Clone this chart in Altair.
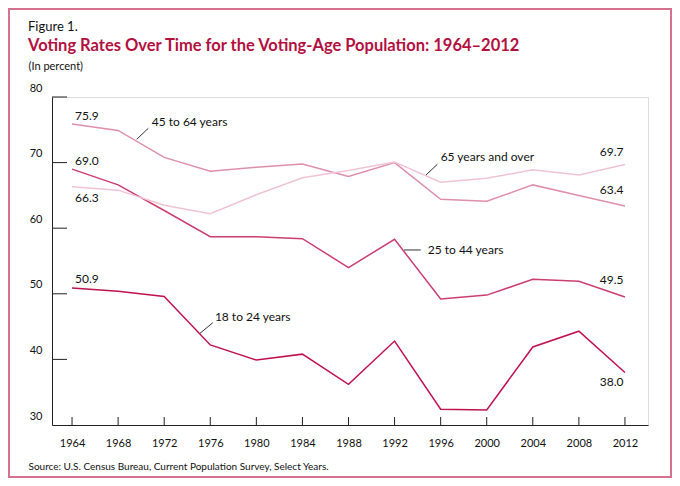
import altair as alt
import pandas as pd

years = [1964, 1968, 1972, 1976, 1980, 1984, 1988, 1992, 1996, 2000, 2004, 2008, 2012]
age_18_24 = [50.9, 50.4, 49.6, 42.2, 39.9, 40.8, 36.2, 42.8, 32.4, 32.3, 41.9, 44.3, 38.0]
age_25_44 = [69.0, 66.6, 62.7, 58.7, 58.7, 58.4, 54.0, 58.3, 49.2, 49.8, 52.2, 51.9, 49.5]
age_45_64 = [75.9, 74.9, 70.8, 68.7, 69.3, 69.8, 67.9, 70.0, 64.4, 64.1, 66.6, 65.0, 63.4]
age_65_up = [66.3, 65.8, 63.5, 62.2, 65.1, 67.7, 68.8, 70.1, 67.0, 67.6, 68.9, 68.1, 69.7]

series_names = ["18 to 24 years", "25 to 44 years", "45 to 64 years", "65 years and over"]
series_values = [age_18_24, age_25_44, age_45_64, age_65_up]
series_colors = ["#c0134b", "#cc3f6c", "#df8fa9", "#f1c4d2"]
y_ticks = [40, 50, 60, 70, 80]

rows = []
for name, vals in zip(series_names, series_values):
    for yr, v in zip(years, vals):
        rows.append({"year": yr, "value": v, "series": name})
df = pd.DataFrame(rows)

W, H = 596, 328
font = "Lato"

xscale = alt.Scale(domain=[1962.26, 2014], nice=False, zero=False)
yscale = alt.Scale(domain=[30, 80], nice=False, zero=False)

xenc = alt.X("year:Q", scale=xscale,
             axis=alt.Axis(values=years, format="d", ticks=False, grid=False,
                           domainColor="#222", domainWidth=1, labelFontSize=11,
                           labelColor="#111", labelPadding=12, labelFont=font,
                           title="Source: U.S. Census Bureau, Current Population Survey, Select Years.",
                           titleFontSize=10, titleFontWeight="normal", titleColor="#111",
                           titleAlign="left", titleBaseline="middle",
                           titleX=-24, titleY=41, titleFont=font))
yenc = alt.Y("value:Q", scale=yscale,
             axis=alt.Axis(values=[30, 40, 50, 60, 70, 80], ticks=False, grid=False,
                           domainColor="#222", domainWidth=1, labelFontSize=11,
                           labelColor="#111", labelPadding=10, labelBaseline="middle",
                           labelOffset=-9, labelFont=font,
                           title="(In percent)", titleAngle=0, titleFontSize=11,
                           titleFontWeight="normal", titleColor="#111",
                           titleAlign="left", titleBaseline="middle",
                           titleX=-24, titleY=-31, titleFont=font))

lines = alt.Chart(df).mark_line(strokeWidth=1.5).encode(
    x=xenc, y=yenc,
    color=alt.Color("series:N", scale=alt.Scale(domain=series_names, range=series_colors), legend=None),
    detail="series:N",
)

ytick_df = pd.DataFrame({"value": y_ticks})
yticks = alt.Chart(ytick_df).mark_rule(color="#222", strokeWidth=1).encode(
    y=alt.Y("value:Q", scale=yscale), x=alt.value(0), x2=alt.value(15))

xtick_df = pd.DataFrame({"year": years})
xticks = alt.Chart(xtick_df).mark_rule(color="#222", strokeWidth=1).encode(
    x=alt.X("year:Q", scale=xscale), y=alt.value(H), y2=alt.value(H - 8))

# series name annotations (anchor positions in data units)
ann_df = pd.DataFrame({
    "text": ["45 to 64 years", "65 years and over", "25 to 44 years", "18 to 24 years"],
    "year": [1970.92, 1996.0, 1994.88, 1976.40],
    "value": [76.23, 70.90, 56.68, 46.42],
})
ann = alt.Chart(ann_df).mark_text(align="left", baseline="middle", fontSize=12,
                                  font=font, color="#111").encode(
    x=alt.X("year:Q", scale=xscale), y=alt.Y("value:Q", scale=yscale), text="text:N")

lead_df = pd.DataFrame({
    "year": [1969.61, 1994.73, 1992.82, 1975.11],
    "year2": [1970.62, 1995.71, 1994.27, 1976.22],
    "value": [73.55, 68.11, 56.68, 43.98],
    "value2": [75.23, 69.74, 56.68, 45.59],
})
leads = alt.Chart(lead_df).mark_rule(color="#333", strokeWidth=1).encode(
    x=alt.X("year:Q", scale=xscale), x2="year2:Q",
    y=alt.Y("value:Q", scale=yscale), y2="value2:Q")

# end-point value labels
left_df = pd.DataFrame({
    "year": [years[0]] * 4,
    "value": [v[0] for v in series_values],
    "label": [f"{v[0]:.1f}" for v in series_values],
})
right_df = pd.DataFrame({
    "year": [years[-1]] * 4,
    "value": [v[-1] for v in series_values],
    "label": [f"{v[-1]:.1f}" for v in series_values],
})

def vlabel(frame, idx, dy, align, dx):
    sub = frame.iloc[[idx]]
    return alt.Chart(sub).mark_text(align=align, baseline="middle", fontSize=12, font=font,
                                    color="#111", dy=dy, dx=dx).encode(
        x=alt.X("year:Q", scale=xscale), y=alt.Y("value:Q", scale=yscale), text="label:N")

vlabels = [
    vlabel(left_df, 0, -9, "left", 3),
    vlabel(left_df, 1, -8.5, "left", 3),
    vlabel(left_df, 2, -8, "left", 3),
    vlabel(left_df, 3, 11.5, "left", 3),
    vlabel(right_df, 0, 9, "right", -1.5),
    vlabel(right_df, 1, -17, "right", -1.5),
    vlabel(right_df, 2, -16, "right", -1.5),
    vlabel(right_df, 3, -12.5, "right", -1.5),
]

frame = alt.Chart(pd.DataFrame({"a": [0]})).mark_rect(
    fill=None, stroke="#d5728f", strokeWidth=2).encode(
    x=alt.value(-43), x2=alt.value(619), y=alt.value(-88), y2=alt.value(380))

chart = alt.layer(frame, lines, yticks, xticks, leads, ann, *vlabels).properties(
    width=W, height=H,
    autosize=alt.AutoSizeParams(type="none"),
    padding={"left": 44, "top": 89, "right": 24, "bottom": 53},
    title=alt.TitleParams(
        text="Figure 1.",
        subtitle="Voting Rates Over Time for the Voting-Age Population: 1964\u20132012",
        anchor="start", frame="group", dx=-24, offset=-46,
        fontSize=13, fontWeight="normal", color="#111", font=font,
        subtitleFontSize=16.5, subtitleFontWeight="bold", subtitleColor="#b3103f",
        subtitleFont=font, subtitlePadding=4,
    ),
).configure_view(stroke=None).configure(font=font, background="white")

chart.save("out.html", embed_options={"renderer": "svg", "actions": False})
